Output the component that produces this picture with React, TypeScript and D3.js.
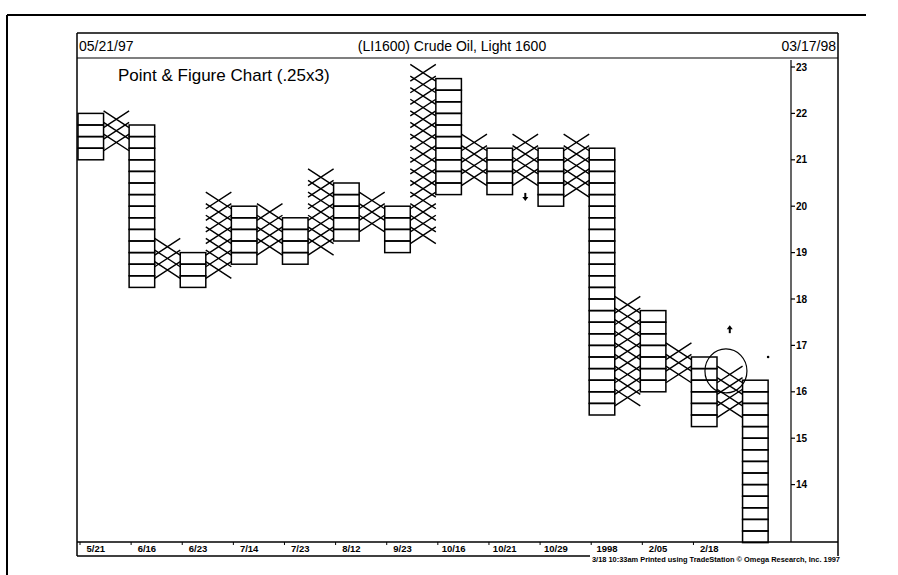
import React from "react";
import * as d3 from "d3";

// ---- data ----
const columnTypes = ["O","X","O","X","O","X","O","X","O","X","O","X","O","X","O","X","O","X","O","X","O","X","O","X","O","X","O"];
const columnLows  = [21.0,21.25,18.25,18.5,18.25,18.5,18.75,19.0,18.75,19.0,19.25,19.5,19.0,19.25,20.25,20.5,20.25,20.5,20.0,20.25,15.5,15.75,16.0,16.25,15.25,15.5,12.75];
const columnHighs = [22.0,22.0,21.75,19.25,19.0,20.25,20.0,20.0,19.75,20.75,20.5,20.25,20.0,23.0,22.75,21.5,21.25,21.5,21.25,21.5,21.25,18.0,17.75,17.0,16.75,16.5,16.25];
const boxSize = 0.25;
const priceTicks = [14,15,16,17,18,19,20,21,22,23];
const dateLabels = ["5/21","6/16","6/23","7/14","7/23","8/12","9/23","10/16","10/21","10/29","1998","2/05","2/18"];
const dateLabelColumns = [0,2,4,6,8,10,12,14,16,18,20,22,24];
const headerLeft = "05/21/97";
const headerTitle = "(LI1600) Crude Oil, Light 1600";
const headerRight = "03/17/98";
const chartLabel = "Point & Figure Chart (.25x3)";
const footerText = "3/18 10:33am Printed using TradeStation \u00a9 Omega Research, Inc. 1997";
// annotations: [column index, price]
const downArrowAt = [17, 20.2];
const upArrowAt = [25, 17.35];
const circleAt = [25, 16.45];
const dotAt = [26, 16.75];

const FONT = "'Liberation Sans', Arial, sans-serif";

export default function App() {
  const W = 898, H = 575;
  const colW = 25.56;
  const x = d3.scaleBand<number>().domain(d3.range(columnTypes.length)).range([78, 78 + columnTypes.length * colW]).padding(0);
  const y = d3.scaleLinear().domain([23, 14]).range([67, 484.6]);
  const bw = x.bandwidth();
  const bh = Math.abs(y(0) - y(boxSize));

  const marks: React.ReactNode[] = [];
  columnTypes.forEach((t, i) => {
    const n = Math.round((columnHighs[i] - columnLows[i]) / boxSize);
    const x0 = x(i)!;
    for (let k = 0; k < n; k++) {
      const pLow = columnLows[i] + k * boxSize;
      const yTop = y(pLow + boxSize);
      const yBot = y(pLow);
      if (t === "O") {
        marks.push(<rect key={`o${i}-${k}`} x={x0} y={yTop} width={bw} height={yBot - yTop} fill="none" stroke="#000" strokeWidth={1.5} />);
      } else {
        const ov = bh * 0.22;
        const p = d3.path();
        p.moveTo(x0, yTop - ov); p.lineTo(x0 + bw, yBot + ov);
        p.moveTo(x0 + bw, yTop - ov); p.lineTo(x0, yBot + ov);
        marks.push(<path key={`x${i}-${k}`} d={p.toString()} fill="none" stroke="#000" strokeWidth={1.4} />);
      }
    }
  });

  const axisX = 791;
  const baseY = 542;
  const center = (i: number) => x(i)! + bw / 2;

  const arrow = (cx: number, cy: number, dir: number, key: string) => {
    // dir: 1 = down, -1 = up
    const len = 8;
    const tip = cy + dir * len / 2;
    const tail = cy - dir * len / 2;
    return (
      <g key={key}>
        <line x1={cx} y1={tail} x2={cx} y2={tip - dir * 3} stroke="#000" strokeWidth={2} />
        <path d={`M${cx - 3},${tip - dir * 4} L${cx + 3},${tip - dir * 4} L${cx},${tip} Z`} fill="#000" />
      </g>
    );
  };

  return (
    <svg width={W} height={H} style={{ position: "absolute", left: 0, top: 0, background: "#fff" }} fontFamily={FONT}>
      {/* outer frame */}
      <line x1={7} y1={15} x2={866} y2={15} stroke="#000" strokeWidth={2} />
      <line x1={7} y1={15} x2={7} y2={575} stroke="#000" strokeWidth={2} />
      {/* inner frame */}
      <line x1={77} y1={33} x2={838} y2={33} stroke="#000" strokeWidth={1.5} />
      <line x1={77} y1={33} x2={77} y2={556} stroke="#000" strokeWidth={1.5} />
      <line x1={838} y1={33} x2={838} y2={556} stroke="#000" strokeWidth={1.5} />
      <line x1={77} y1={58} x2={838} y2={58} stroke="#000" strokeWidth={1.2} />
      {/* header */}
      <text x={79} y={51} fontSize={14}>{headerLeft}</text>
      <text x={452} y={51} fontSize={14} textAnchor="middle">{headerTitle}</text>
      <text x={836} y={51} fontSize={14} textAnchor="end">{headerRight}</text>
      <text x={118} y={81} fontSize={17}>{chartLabel}</text>

      {/* P&F columns */}
      {marks}

      {/* right price axis */}
      <line x1={axisX} y1={60} x2={axisX} y2={baseY} stroke="#000" strokeWidth={1.2} />
      {priceTicks.map((p) => (
        <g key={`t${p}`}>
          <line x1={axisX} x2={axisX + 4} y1={y(p)} y2={y(p)} stroke="#000" strokeWidth={1.2} />
          <text x={axisX + 5} y={y(p)} dy="0.35em" fontSize={10} fontWeight="bold">{p}</text>
        </g>
      ))}

      {/* bottom date axis */}
      <line x1={77} y1={baseY} x2={838} y2={baseY} stroke="#000" strokeWidth={1.5} />
      <line x1={77} y1={556} x2={590} y2={556} stroke="#000" strokeWidth={1.5} />
      {dateLabelColumns.map((c, j) => (
        <g key={`d${j}`}>
          <line x1={x(c)! + 2} x2={x(c)! + 2} y1={baseY} y2={baseY + 3} stroke="#000" strokeWidth={1} />
          <text x={center(c) + 5} y={552} fontSize={9.5} fontWeight="bold" textAnchor="middle">{dateLabels[j]}</text>
        </g>
      ))}
      <text x={592} y={561.5} fontSize={6.5} fontWeight="bold" textLength={248} lengthAdjust="spacingAndGlyphs">{footerText}</text>

      {/* annotations */}
      {arrow(center(downArrowAt[0]), y(downArrowAt[1]), 1, "down")}
      {arrow(center(upArrowAt[0]), y(upArrowAt[1]), -1, "up")}
      <ellipse cx={x(circleAt[0])! + bw * 0.35} cy={y(circleAt[1])} rx={21} ry={22} fill="none" stroke="#000" strokeWidth={1.2} />
      <circle cx={x(dotAt[0])! + bw} cy={y(dotAt[1])} r={1.3} fill="#000" />
    </svg>
  );
}
